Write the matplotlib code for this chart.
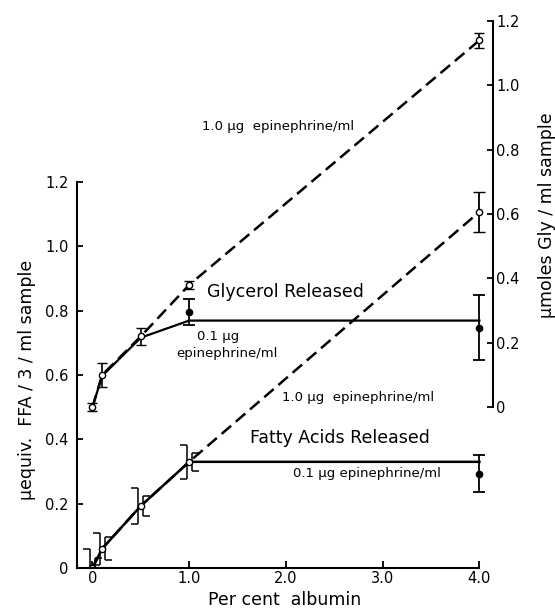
import matplotlib.pyplot as plt

# albumin concentrations (per cent)
albumina = [0, 0.1, 0.5, 1.0, 4.0]

# glicerol (umoles Gly / ml) - eje derecho
gly_10 = [0, 0.10, 0.22, 0.38, 1.14]      # 1.0 ug epinefrina, linea discontinua
gly_01_linea = [0, 0.097, 0.216, 0.269, 0.269]
gly_10_err = [0.012, 0.036, 0.027, 0.013, 0.024]
gly_01_x = [1.0, 4.0]
gly_01_pts = [0.295, 0.247]
gly_01_err = [0.04, 0.10]

# acidos grasos (uequiv FFA / 3 / ml) - eje izquierdo
ffa_10 = [0, 0.06, 0.193, 0.33, 1.107]
ffa_01_linea = [0, 0.06, 0.193, 0.33, 0.33]
ffa_err_a = [0.06, 0.05, 0.056, 0.053]    # corchete "]"
ffa_err_b = [0.03, 0.035, 0.03, 0.028]    # corchete "["
ffa_10_err4 = 0.063
ffa_01_pt4 = 0.293
ffa_01_err4 = 0.058

ticks_y = [0, 0.2, 0.4, 0.6, 0.8, 1.0, 1.2]
etiquetas_y = ["0", "0.2", "0.4", "0.6", "0.8", "1.0", "1.2"]
ticks_x = [0, 1, 2, 3, 4]
etiquetas_x = ["0", "1.0", "2.0", "3.0", "4.0"]

plt.rcParams['font.family'] = ['DejaVu Sans']

fig = plt.figure(figsize=(5.55, 6.13), dpi=100)
ax = fig.add_axes([0.1387, 0.0734, 0.7495, 0.8923])
ax.set_xlim(-0.16, 4.14)
ax.set_ylim(0, 1.7)
ax2 = ax.twinx()
ax2.set_ylim(-0.5, 1.2)

negro = 'black'
dash = (5, 2.5)


def corchete(eje, x, y, err, lado):
    _, caps, _ = eje.errorbar(x, y, yerr=err, fmt='none', ecolor=negro,
                              elinewidth=1.1, capsize=2.5, capthick=1.1)
    for c in caps:
        c.set_marker(lado)


# --- glicerol (eje derecho) ---
ax2.plot(albumina, gly_01_linea, color=negro, lw=1.6)
ax2.plot(albumina, gly_10, color=negro, lw=1.8, dashes=dash)
ax2.errorbar(albumina, gly_10, yerr=gly_10_err, fmt='o', ms=4.5, mfc='white',
             mec=negro, mew=1, ecolor=negro, elinewidth=1.2, capsize=3.5, capthick=1.2)
ax2.errorbar(gly_01_x, gly_01_pts, yerr=gly_01_err, fmt='o', ms=4.5, color=negro,
             elinewidth=1.3, capsize=4.5, capthick=1.3)

# --- acidos grasos (eje izquierdo) ---
ax.plot(albumina, ffa_01_linea, color=negro, lw=1.8)
ax.plot(albumina, ffa_10, color=negro, lw=1.8, dashes=dash)
xs = albumina[:4]
corchete(ax, [v - 0.025 for v in xs], ffa_10[:4], ffa_err_a, 0)
corchete(ax, [v + 0.025 for v in xs], ffa_10[:4], ffa_err_b, 1)
ax.plot(albumina[:4], ffa_10[:4], 'o', ms=4.5, mfc='white', mec=negro, mew=1)
ax.errorbar([4.0], [ffa_10[4]], yerr=[ffa_10_err4], fmt='o', ms=4.5, mfc='white',
            mec=negro, mew=1, ecolor=negro, elinewidth=1.3, capsize=4.5, capthick=1.3)
ax.errorbar([4.0], [ffa_01_pt4], yerr=[ffa_01_err4], fmt='o', ms=4.5, color=negro,
            elinewidth=1.3, capsize=4.5, capthick=1.3)

# --- ejes ---
for s in ['top', 'right']:
    ax.spines[s].set_visible(False)
for s in ['top', 'left', 'bottom']:
    ax2.spines[s].set_visible(False)
ax.spines['left'].set_bounds(0, 1.2)
ax.spines['bottom'].set_bounds(-0.16, 4.0)
ax2.spines['right'].set_bounds(0, 1.2)
for sp in [ax.spines['left'], ax.spines['bottom'], ax2.spines['right']]:
    sp.set_linewidth(1.5)

ax.set_yticks(ticks_y, etiquetas_y)
ax.set_xticks(ticks_x, etiquetas_x)
ax2.set_yticks(ticks_y, etiquetas_y)
ax.tick_params(axis='y', direction='in', length=4, width=1.3, pad=6, labelsize=10.5)
ax.tick_params(axis='x', direction='in', length=5, width=1.3, pad=2, labelsize=10.5)
ax2.tick_params(axis='y', direction='in', length=4, width=1.3, pad=2.5, labelsize=10.5)

ax.set_xlabel("Per cent  albumin", fontsize=12.5, labelpad=4)
fig.text(27 / 555, 1 - 380 / 613, "µequiv.  FFA / 3 / ml sample", rotation=90,
         ha='center', va='center', fontsize=12.5)
fig.text(547 / 555, 1 - 215 / 613, "µmoles Gly / ml sample", rotation=90,
         ha='center', va='center', fontsize=12.5)

# --- rotulos ---
ax.text(1.92, 1.373, "1.0 µg  epinephrine/ml", fontsize=9.5, ha='center', va='center')
ax.text(1.99, 0.858, "Glycerol Released", fontsize=12.5, ha='center', va='center')
ax.text(1.30, 0.718, "0.1 µg", fontsize=9.5, ha='center', va='center')
ax.text(1.395, 0.668, "epinephrine/ml", fontsize=9.5, ha='center', va='center')
ax.text(2.75, 0.531, "1.0 µg  epinephrine/ml", fontsize=9.5, ha='center', va='center')
ax.text(2.56, 0.404, "Fatty Acids Released", fontsize=12.5, ha='center', va='center')
ax.text(2.84, 0.295, "0.1 µg epinephrine/ml", fontsize=9.5, ha='center', va='center')

fig.savefig("out.png", dpi=100)
